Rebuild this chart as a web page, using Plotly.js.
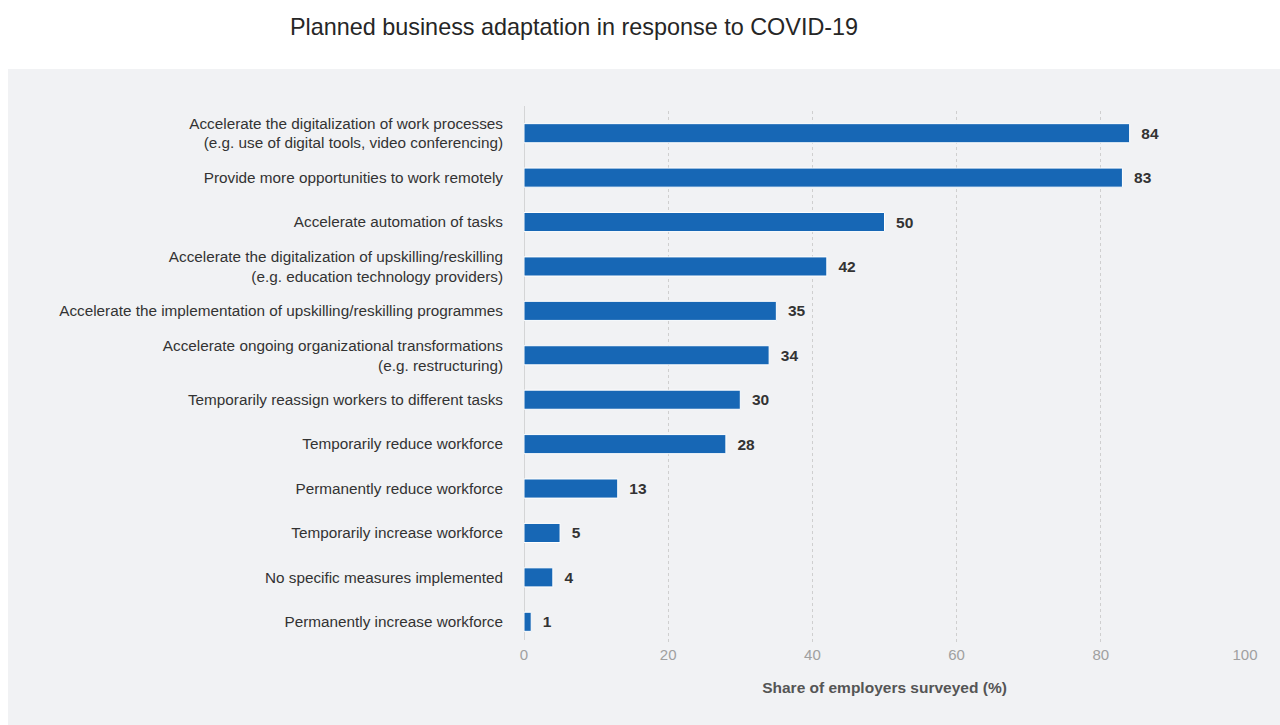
<!DOCTYPE html>
<html>
<head>
<meta charset="utf-8">
<script src="https://cdn.plot.ly/plotly-3.0.1.min.js"></script>
<style>html,body{margin:0;padding:0;background:#fff;}#chart{width:1280px;height:725px;}</style>
</head>
<body>
<div id="chart"></div>
<script>
const categories = [
  "Accelerate the digitalization of work processes<br>(e.g. use of digital tools, video conferencing)",
  "Provide more opportunities to work remotely",
  "Accelerate automation of tasks",
  "Accelerate the digitalization of upskilling/reskilling<br>(e.g. education technology providers)",
  "Accelerate the implementation of upskilling/reskilling programmes",
  "Accelerate ongoing organizational transformations<br>(e.g. restructuring)",
  "Temporarily reassign workers to different tasks",
  "Temporarily reduce workforce",
  "Permanently reduce workforce",
  "Temporarily increase workforce",
  "No specific measures implemented",
  "Permanently increase workforce"
];
const values = [84, 83, 50, 42, 35, 34, 30, 28, 13, 5, 4, 1];
const xTicks = [0, 20, 40, 60, 80, 100];

const W = 1280, H = 725;
const mL = 524, mR = W - 1245, mT = 111, mB = H - 644;
const pw = W - mL - mR, ph = H - mT - mB;
function px(x){ return (x - mL) / pw; }
function py(y){ return 1 - (y - mT) / ph; }
const FONT = 'Liberation Sans, Arial, sans-serif';

const trace = {
  type: 'bar',
  orientation: 'h',
  y: categories,
  x: values,
  width: 0.43,
  marker: {color: '#1767b5', line: {color: '#ffffff', width: 1}},
  text: values.map(v => '\u00a0\u00a0' + v),
  texttemplate: '%{text}',
  textposition: 'outside',
  cliponaxis: false,
  textfont: {family: FONT, size: 15.5, color: '#333333', weight: 'bold'},
  hoverinfo: 'x+y'
};

const layout = {
  width: W, height: H,
  paper_bgcolor: '#ffffff',
  plot_bgcolor: 'rgba(0,0,0,0)',
  margin: {l: mL, r: mR, t: mT, b: mB, pad: 0},
  showlegend: false,
  bargap: 0.57,
  title: {
    text: 'Planned business adaptation in response to COVID-19',
    font: {family: FONT, size: 23.4, color: '#262626'},
    x: 574 / W, xref: 'container', xanchor: 'center',
    y: 1 - 27 / H, yref: 'container', yanchor: 'middle'
  },
  xaxis: {
    range: [0, 100],
    tickvals: xTicks,
    ticktext: xTicks.map(String),
    showgrid: true,
    gridcolor: '#cfcfcf',
    griddash: 'dot',
    gridwidth: 1,
    zeroline: false,
    showline: false,
    ticks: '',
    tickfont: {family: FONT, size: 15, color: '#a0a0a0'},
    title: {
      text: 'Share of employers surveyed (%)',
      font: {family: FONT, size: 15.5, color: '#555555', weight: 'bold'},
      standoff: 20
    },
    fixedrange: true
  },
  yaxis: {
    type: 'category',
    autorange: 'reversed',
    showgrid: false,
    zeroline: false,
    showline: false,
    ticks: '',
    ticklabelstandoff: 20,
    tickfont: {family: FONT, size: 15.3, color: '#333333'},
    fixedrange: true
  },
  shapes: [
    {type: 'rect', xref: 'paper', yref: 'paper', layer: 'below',
     x0: px(8), x1: px(1290), y0: py(69), y1: py(735),
     fillcolor: '#f1f2f4', line: {width: 0}},
    {type: 'line', xref: 'x', yref: 'paper', layer: 'below',
     x0: 0, x1: 0, y0: py(640), y1: py(106),
     line: {color: '#b8b8b8', width: 1}}
  ]
};

Plotly.newPlot('chart', [trace], layout, {displayModeBar: false, staticPlot: true});
</script>
</body>
</html>
